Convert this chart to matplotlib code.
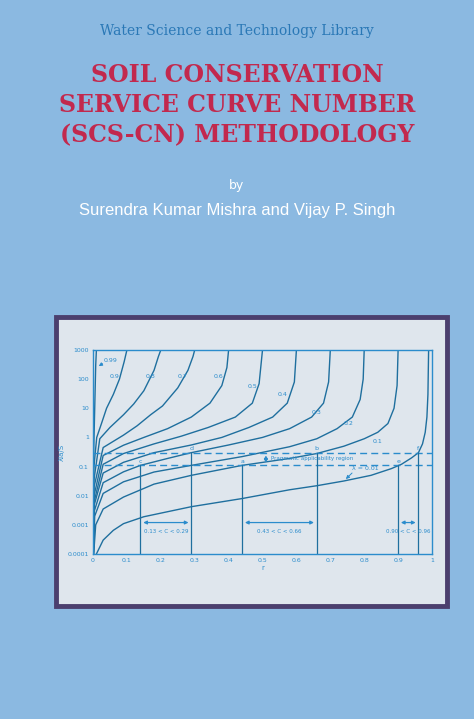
import matplotlib
matplotlib.use("Agg")
import matplotlib.pyplot as plt
from matplotlib.patches import Rectangle

# ---- data: curves (x = C, y = λIa/S) ----
curve_x = {
    0.01: [0.01, 0.03, 0.06, 0.09, 0.15, 0.29, 0.44, 0.58, 0.66, 0.74, 0.82, 0.88, 0.91, 0.94, 0.96, 0.972, 0.98, 0.985, 0.988, 0.99],
    0.1:  [0.002, 0.008, 0.03, 0.09, 0.18, 0.29, 0.44, 0.58, 0.66, 0.74, 0.80, 0.84, 0.87, 0.888, 0.897, 0.9],
    0.2:  [0.001, 0.005, 0.03, 0.09, 0.18, 0.29, 0.44, 0.58, 0.66, 0.72, 0.765, 0.788, 0.797, 0.8],
    0.3:  [0.001, 0.004, 0.03, 0.09, 0.14, 0.22, 0.29, 0.40, 0.50, 0.58, 0.645, 0.68, 0.695, 0.7],
    0.4:  [0.001, 0.004, 0.03, 0.09, 0.18, 0.29, 0.38, 0.46, 0.53, 0.573, 0.594, 0.6],
    0.5:  [0.001, 0.003, 0.03, 0.09, 0.18, 0.26, 0.34, 0.42, 0.47, 0.49, 0.5],
    0.6:  [0.001, 0.003, 0.03, 0.09, 0.15, 0.22, 0.29, 0.345, 0.38, 0.395, 0.4],
    0.7:  [0.001, 0.003, 0.03, 0.09, 0.13, 0.17, 0.205, 0.25, 0.28, 0.295, 0.3],
    0.8:  [0.001, 0.002, 0.02, 0.05, 0.09, 0.12, 0.15, 0.18, 0.193, 0.2],
    0.9:  [0.001, 0.002, 0.011, 0.025, 0.04, 0.06, 0.078, 0.092, 0.1],
    0.99: [0.001, 0.002, 0.004, 0.006, 0.008, 0.01],
}
curve_y = {
    0.01: [1e-4, 3e-4, 6.5e-4, 1.1e-3, 1.9e-3, 4.2e-3, 8e-3, 1.6e-2, 2.2e-2, 3.2e-2, 5e-2, 8.5e-2, 0.12, 0.2, 0.3, 0.6, 1.5, 5, 30, 1000],
    0.1:  [1e-4, 1e-3, 3.5e-3, 9e-3, 0.025, 0.05, 0.11, 0.19, 0.28, 0.5, 0.9, 1.5, 3, 10, 60, 1000],
    0.2:  [1e-4, 2e-3, 0.012, 0.03, 0.065, 0.11, 0.22, 0.48, 0.9, 2, 5, 20, 100, 1000],
    0.3:  [1e-4, 3e-3, 0.028, 0.066, 0.11, 0.19, 0.3, 0.55, 1.0, 2, 5, 15, 80, 1000],
    0.4:  [1e-4, 5e-3, 0.06, 0.14, 0.3, 0.55, 1.0, 2.2, 5, 15, 80, 1000],
    0.5:  [1e-4, 6e-3, 0.12, 0.28, 0.6, 1.1, 2.2, 5, 15, 70, 1000],
    0.6:  [1e-4, 0.01, 0.24, 0.54, 1.0, 2, 5, 15, 60, 250, 1000],
    0.7:  [1e-4, 0.02, 0.45, 1.2, 2.5, 6, 12, 50, 200, 600, 1000],
    0.8:  [1e-4, 0.03, 0.9, 2.2, 6, 14, 40, 200, 600, 1000],
    0.9:  [1e-4, 0.08, 1.0, 3, 10, 30, 100, 400, 1000],
    0.99: [1e-4, 0.3, 3, 30, 300, 1000],
}
curve_labels = ["0.9", "0.8", "0.7", "0.6", "0.5", "0.4", "0.3", "0.2", "0.1"]
label_x = [0.065, 0.17, 0.265, 0.37, 0.47, 0.56, 0.66, 0.755, 0.84]
label_y = [120, 120, 120, 120, 55, 30, 7, 3, 0.7]
range_pairs = [(0.14, 0.29), (0.44, 0.66), (0.90, 0.96)]
range_texts = ["0.13 < C < 0.29", "0.43 < C < 0.66", "0.90 < C < 0.96"]
pt_letters = ["c", "d", "a", "b", "e", "f"]
dash_low, dash_high = 0.11, 0.3
xticks = [0, 0.1, 0.2, 0.3, 0.4, 0.5, 0.6, 0.7, 0.8, 0.9, 1]
yticks = [1e-4, 1e-3, 1e-2, 0.1, 1, 10, 100, 1000]
ytick_labels = ["0.0001", "0.001", "0.01", "0.1", "1", "10", "100", "1000"]

BG = "#8bb9e1"
CURVE = "#1f6f9e"
ANN = "#2b8ccc"

fig = plt.figure(figsize=(4.74, 7.19), dpi=100, facecolor=BG)

fig.patches.append(Rectangle((56/474, 1-606/719), (447-56)/474, (606-317)/719,
                             transform=fig.transFigure, facecolor="#dfe6ed",
                             edgecolor="#4b3f6e", linewidth=3.5, zorder=-10))

fig.text(0.5, 1-31/719, "Water Science and Technology Library", ha="center", va="center",
         color="#2a78b6", fontsize=10, family="DejaVu Serif")
for i, line in enumerate(["SOIL CONSERVATION", "SERVICE CURVE NUMBER", "(SCS-CN) METHODOLOGY"]):
    fig.text(0.5, 1-(75+30*i)/719, line, ha="center", va="center", color="#c2294e",
             fontsize=17, fontweight="bold", family="DejaVu Serif")
fig.text(0.5, 1-186/719, "by", ha="center", va="center", color="white", fontsize=9)
fig.text(0.5, 1-210/719, "Surendra Kumar Mishra and Vijay P. Singh", ha="center",
         va="center", color="white", fontsize=12, family="Liberation Sans")

ax = fig.add_axes([93/474, 1-554/719, (432-93)/474, (554-350)/719])
ax.set_facecolor("none")
ax.set_yscale("log")
ax.set_xlim(0, 1)
ax.set_ylim(1e-4, 1000)
for s in ax.spines.values():
    s.set_color(ANN); s.set_linewidth(1)
ax.set_xticks(xticks)
ax.set_xticklabels([("%g" % t) for t in xticks])
ax.set_yticks(yticks)
ax.set_yticklabels(ytick_labels)
ax.minorticks_off()
ax.tick_params(colors=ANN, labelsize=4.5, length=0, pad=3)
ax.set_xlabel("r", color=ANN, fontsize=5, labelpad=1)
ax.set_ylabel("λIa/S", color=ANN, fontsize=5, labelpad=2)

for p in curve_x:
    ax.plot(curve_x[p], curve_y[p], color=CURVE, lw=1.0, solid_joinstyle="round")

for t, x, y in zip(curve_labels, label_x, label_y):
    ax.text(x, y, t, color=ANN, fontsize=4.5, ha="center", va="center")
ax.text(0.03, 400, "0.99", color=ANN, fontsize=4.5)
ax.annotate("", xy=(0.01, 250), xytext=(0.035, 380),
            arrowprops=dict(arrowstyle="-|>", color=ANN, lw=0.7, mutation_scale=5))

ax.axhline(dash_high, color=ANN, ls=(0, (5, 3)), lw=1)
ax.axhline(dash_low, color=ANN, ls=(0, (5, 3)), lw=1)

k = 0
for (x1, x2), t in zip(range_pairs, range_texts):
    ax.plot([x1, x1], [1e-4, dash_low], color=CURVE, lw=0.9)
    ax.plot([x2, x2], [1e-4, dash_high], color=CURVE, lw=0.9)
    ax.annotate("", xy=(x1, 0.0012), xytext=(x2, 0.0012),
                arrowprops=dict(arrowstyle="<|-|>", color=ANN, lw=0.9, mutation_scale=5))
    ax.text((x1 + x2) / 2, 0.0006, t, color=ANN, fontsize=4, ha="center", va="center")
    ax.text(x1, dash_low * 1.15, pt_letters[k], color=ANN, fontsize=4.5, ha="center", va="bottom")
    ax.text(x2, dash_high * 1.15, pt_letters[k + 1], color=ANN, fontsize=4.5, ha="center", va="bottom")
    k += 2

ax.annotate("", xy=(0.51, dash_high), xytext=(0.51, dash_low),
            arrowprops=dict(arrowstyle="<|-|>", color=ANN, lw=0.9, mutation_scale=5))
ax.text(0.525, 0.19, "Pragmatic applicability region", color=ANN, fontsize=4, va="center")
ax.text(0.765, 0.075, "λ = 0.01", color=ANN, fontsize=4.5)
ax.annotate("", xy=(0.74, 0.032), xytext=(0.77, 0.07),
            arrowprops=dict(arrowstyle="-|>", color=ANN, lw=0.7, mutation_scale=5))

fig.savefig("out.png", dpi=100, facecolor=BG)
